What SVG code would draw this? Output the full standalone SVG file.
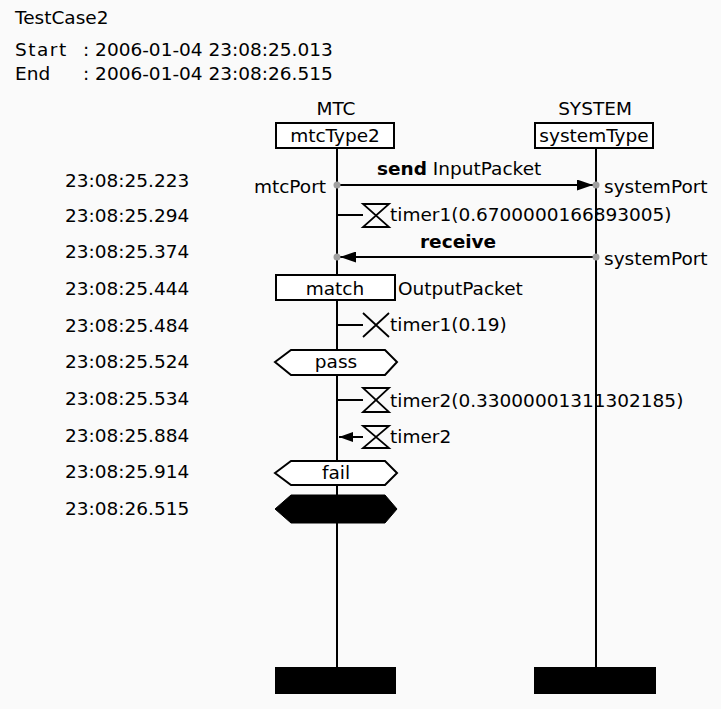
<svg xmlns="http://www.w3.org/2000/svg" width="721" height="709" viewBox="0 0 721 709">
<style>
text{font-family:"DejaVu Sans","Liberation Sans",sans-serif;font-size:18.5px;fill:#000}
.b{font-weight:bold}
.mid{text-anchor:middle}
.end{text-anchor:end}
.ln{stroke:#000;stroke-width:2;fill:none}
.box{stroke:#000;stroke-width:2;fill:#fff}
.tm{stroke:#000;stroke-width:1.8;fill:none}
.port{fill:#a0a0a0}
</style>
<defs>
<marker id="ah" viewBox="0 0 16 11" refX="16" refY="5.5" markerWidth="16" markerHeight="11" markerUnits="userSpaceOnUse" orient="auto">
<path d="M0,0 L16,5.5 L0,11 z" fill="#000"/>
</marker>
<marker id="ahs" viewBox="0 0 14 10" refX="14" refY="5" markerWidth="14" markerHeight="10" markerUnits="userSpaceOnUse" orient="auto">
<path d="M0,0 L14,5 L0,10 z" fill="#000"/>
</marker>
</defs>
<rect width="721" height="709" fill="#fafafa"/>
<g id="header">
<text x="15" y="24">TestCase2</text>
<text x="15" y="56" letter-spacing="1.5">Start</text>
<text x="83" y="56">: 2006-01-04 23:08:25.013</text>
<text x="15" y="80">End</text>
<text x="83" y="80">: 2006-01-04 23:08:26.515</text>
</g>
<g id="timestamps">
<text x="65" y="187">23:08:25.223</text>
<text x="65" y="222">23:08:25.294</text>
<text x="65" y="258">23:08:25.374</text>
<text x="65" y="295">23:08:25.444</text>
<text x="65" y="332">23:08:25.484</text>
<text x="65" y="368">23:08:25.524</text>
<text x="65" y="405">23:08:25.534</text>
<text x="65" y="442">23:08:25.884</text>
<text x="65" y="478">23:08:25.914</text>
<text x="65" y="515">23:08:26.515</text>
</g>
<g id="lifelines">
<line class="ln" x1="337" y1="148" x2="337" y2="668"/>
<line class="ln" x1="596" y1="148" x2="596" y2="668"/>
</g>
<g id="mtc">
<text class="mid" x="336" y="115">MTC</text>
<rect class="box" x="276" y="123" width="118" height="25"/>
<text class="mid" x="335" y="142">mtcType2</text>
<rect x="275" y="667" width="121" height="27" fill="#000"/>
</g>
<g id="system">
<text class="mid" x="595" y="115">SYSTEM</text>
<rect class="box" x="535" y="123" width="118" height="25"/>
<text class="mid" x="594" y="142">systemType</text>
<rect x="534" y="667" width="122" height="27" fill="#000"/>
</g>
<g id="connectors">
<line class="ln" x1="337" y1="185" x2="593" y2="185" marker-end="url(#ah)"/>
<line class="ln" x1="596" y1="257" x2="340" y2="257" marker-end="url(#ah)"/>
<line class="ln" x1="363" y1="437" x2="339" y2="437" marker-end="url(#ahs)"/>
<line class="ln" x1="337" y1="215" x2="363" y2="215"/>
<line class="ln" x1="337" y1="325" x2="363" y2="325"/>
<line class="ln" x1="337" y1="400" x2="363" y2="400"/>
</g>
<g id="send">
<text x="377" y="175"><tspan class="b">send</tspan> InputPacket</text>
<circle class="port" cx="337" cy="185" r="3.5"/>
<circle class="port" cx="596" cy="185" r="3.5"/>
<text class="end" x="326" y="193">mtcPort</text>
<text x="604" y="193">systemPort</text>
</g>
<g id="timer1-start">
<path class="tm" d="M363,204 H389 L363,227 H389 Z"/>
<text x="390" y="221">timer1(0.6700000166893005)</text>
</g>
<g id="receive">
<text class="b" x="420" y="248">receive</text>
<circle class="port" cx="337" cy="257" r="3.5"/>
<circle class="port" cx="596" cy="257" r="3.5"/>
<text x="604" y="265">systemPort</text>
</g>
<g id="match">
<rect class="box" x="276" y="275" width="119" height="25"/>
<text class="mid" x="335" y="295">match</text>
<text x="398" y="295">OutputPacket</text>
</g>
<g id="timer1-stop">
<path class="tm" d="M363,313 L389,337 M389,313 L363,337"/>
<text x="390" y="331">timer1(0.19)</text>
</g>
<g id="pass">
<polygon class="box" points="275,362 291,350 385,350 397,362 385,375 291,375"/>
<text class="mid" x="336" y="368">pass</text>
</g>
<g id="timer2-start">
<path class="tm" d="M363,388 H389 L363,412 H389 Z"/>
<text x="390" y="407">timer2(0.33000001311302185)</text>
</g>
<g id="timer2-timeout">
<path class="tm" d="M363,426 H389 L363,448 H389 Z"/>
<text x="390" y="443">timer2</text>
</g>
<g id="fail">
<polygon class="box" points="275,473 291,461 385,461 397,473 385,485 291,485"/>
<text class="mid" x="336" y="479">fail</text>
</g>
<g id="stop">
<polygon points="275,509 291,495 385,495 397,509 385,523 291,523" fill="#000" stroke="#000" stroke-width="1"/>
</g>
</svg>
